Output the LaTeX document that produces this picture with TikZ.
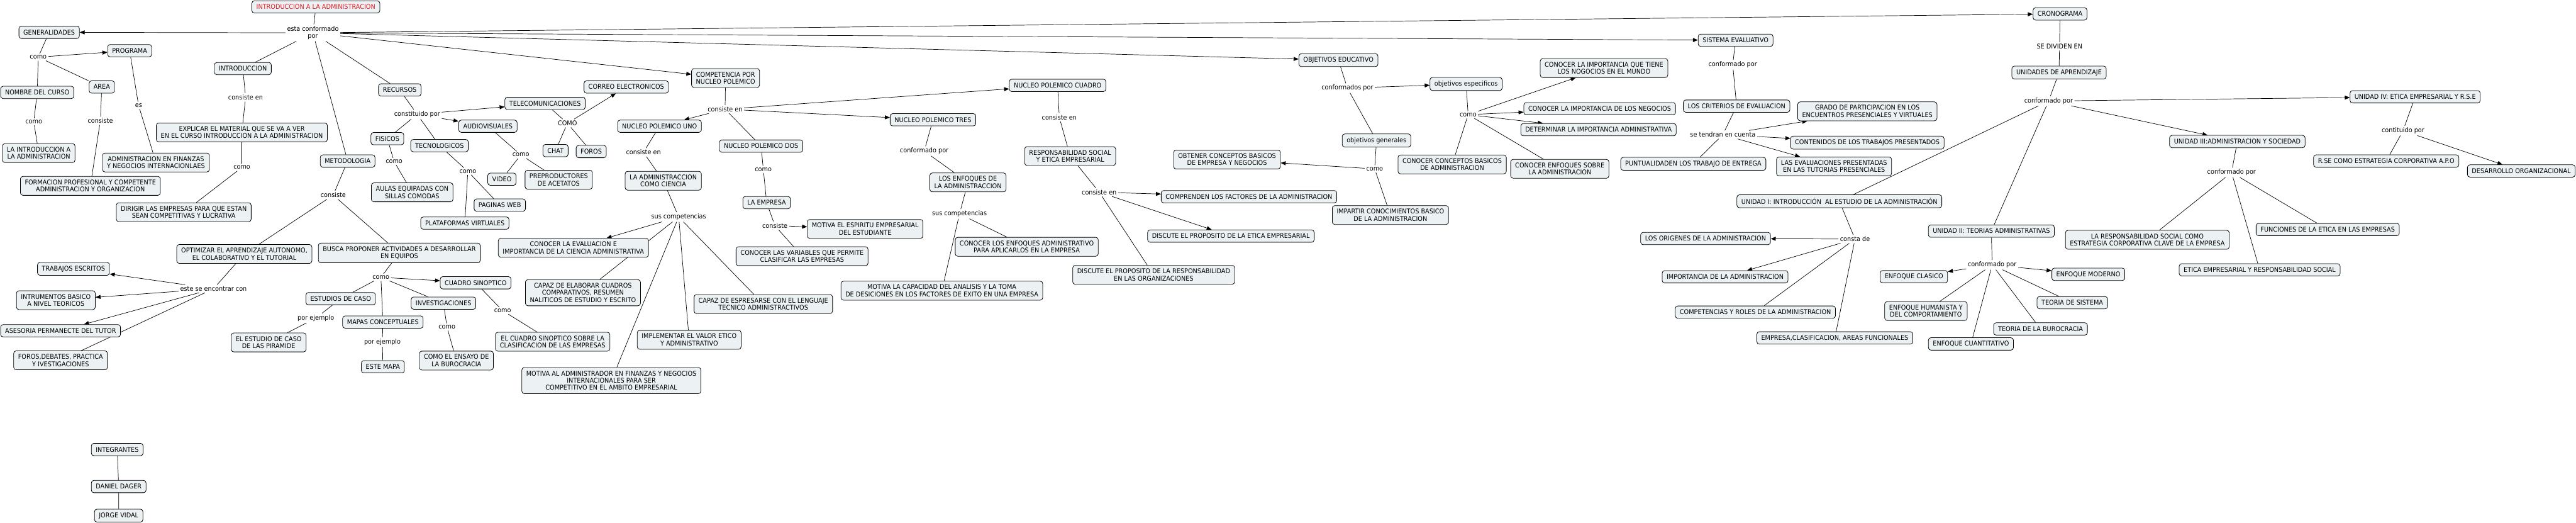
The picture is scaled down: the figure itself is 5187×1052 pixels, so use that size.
\documentclass[tikz,border=0pt]{standalone}
\usepackage{fontspec}
\setmainfont{DejaVu Sans}[FakeStretch=0.93]
\usetikzlibrary{arrows.meta,backgrounds}
\definecolor{boxfill}{RGB}{236,242,244}
\definecolor{titlered}{RGB}{228,28,36}
\tikzset{
  concept/.style={draw=black, line width=0.5pt, fill=boxfill, rounded corners=2.5pt,
    align=center, inner xsep=4.5pt, inner ysep=3.4pt, minimum height=12.4pt},
  linkword/.style={inner sep=1.5pt, align=center},
  joint/.style={line width=0.45pt},
  arr/.style={joint, -{Triangle[length=5pt,width=4pt]}}
}
\begin{document}
\begin{tikzpicture}[x=0.5pt,y=-0.5pt,font=\fontsize{6.6}{7.25}\selectfont]
	\useasboundingbox (0,0) rectangle (5187,1052);

	% Root
	\node[concept, text=titlered] (title) at (636,14) {INTRODUCCION A LA ADMINISTRACION};
	\node[linkword] (conf) at (630,66) {esta conformado\\por};

	% Generalidades
	\node[concept] (gen) at (99,65) {GENERALIDADES};
	\node[linkword] (l_gen) at (77,115) {como};
	\node[concept] (prog) at (261,102) {PROGRAMA};
	\node[concept] (nombre) at (75,186) {NOMBRE DEL CURSO};
	\node[concept] (area) at (205,175) {AREA};
	\node[linkword] (l_prog) at (279,212) {es};
	\node[linkword] (l_nombre) at (68,245) {como};
	\node[linkword] (l_area) at (202,243) {consiste};
	\node[concept] (laintro) at (78,308) {LA INTRODUCCION A\\LA ADMINISTRACION};
	\node[concept] (adminfin) at (314,327) {ADMINISTRACION EN FINANZAS\\Y NEGOCIOS INTERNACIONLAES};
	\node[concept] (formacion) at (182,374) {FORMACION PROFESIONAL Y COMPETENTE\\ADMINISTRACION Y ORGANIZACION};

	% Introduccion
	\node[concept] (intro) at (489,138) {INTRODUCCION};
	\node[linkword] (l_intro) at (494.5,196) {consiste en};
	\node[concept] (explicar) at (487,266.5) {EXPLICAR EL MATERIAL QUE SE VA A VER\\EN EL CURSO INTRODUCCION A LA ADMINISTRACION};
	\node[linkword] (l_explicar) at (487,337) {como};
	\node[concept] (dirigir) at (370,427) {DIRIGIR LAS EMPRESAS PARA QUE ESTAN\\SEAN COMPETITIVAS Y LUCRATIVA};

	% Metodologia
	\node[concept] (metodo) at (700,324) {METODOLOGIA};
	\node[linkword] (l_metodo) at (671,392.6) {consiste};
	\node[concept] (optim) at (492,511) {OPTIMIZAR EL APRENDIZAJE AUTONOMO,\\EL COLABORATIVO Y EL TUTORIAL};
	\node[concept] (busca) at (804,509) {BUSCA PROPONER ACTIVIDADES A DESARROLLAR\\EN EQUIPOS};
	\node[linkword] (l_optim) at (430,581) {este se encontrar con};
	\node[concept] (trabajos) at (148,541) {TRABAJOS ESCRITOS};
	\node[concept] (intrum) at (112.5,604) {INTRUMENTOS BASICO\\A NIVEL TEORICOS};
	\node[concept] (asesoria) at (122,665.5) {ASESORIA PERMANECTE DEL TUTOR};
	\node[concept] (foros2) at (122,725) {FOROS,DEBATES, PRACTICA\\Y IVESTIGACIONES};
	\node[linkword] (l_busca) at (767,558) {como};
	\node[concept] (estudios) at (686,601) {ESTUDIOS DE CASO};
	\node[concept] (invest) at (893,610) {INVESTIGACIONES};
	\node[concept] (cuadro) at (957.7,569) {CUADRO SINOPTICO};
	\node[linkword] (l_estudios) at (636,640) {por ejemplo};
	\node[concept] (mapas) at (771,648) {MAPAS CONCEPTUALES};
	\node[concept] (piramide) at (541,689) {EL ESTUDIO DE CASO\\DE LAS PIRAMIDE};
	\node[linkword] (l_mapas) at (770,688) {por ejemplo};
	\node[concept] (estemapa) at (771,738) {ESTE MAPA};
	\node[linkword] (l_invest) at (900,658) {como};
	\node[concept] (ensayo) at (919,725.5) {COMO EL ENSAYO DE\\LA BUROCRACIA};
	\node[linkword] (l_cuadro) at (1012,625) {como};
	\node[concept] (cuadrosob) at (1112.8,687.6) {EL CUADRO SINOPTICO SOBRE LA\\CLASIFICACION DE LAS EMPRESAS};

	% Recursos
	\node[concept] (recur) at (805,181) {RECURSOS};
	\node[linkword] (l_recur) at (840,230) {constituido por};
	\node[concept] (fisicos) at (780,279) {FISICOS};
	\node[concept] (tecno) at (885,293) {TECNOLOGICOS};
	\node[linkword] (l_fisicos) at (793.5,325) {como};
	\node[concept] (aulas) at (830,387) {AULAS EQUIPADAS CON\\SILLAS COMODAS};
	\node[linkword] (l_tecno) at (942,344.7) {como};
	\node[concept] (paginas) at (1006.4,412.7) {PAGINAS WEB};
	\node[concept] (plataf) at (936,449) {PLATAFORMAS VIRTUALES};
	\node[concept] (telecom) at (1097.5,208) {TELECOMUNICACIONES};
	\node[concept] (correo) at (1261,175) {CORREO ELECTRONICOS};
	\node[linkword] (l_telecom) at (1142.5,248) {COMO};
	\node[concept] (chat) at (1118.6,303) {CHAT};
	\node[concept] (foros) at (1190.5,305) {FOROS};
	\node[concept] (audio) at (982.5,254) {AUDIOVISUALES};
	\node[linkword] (l_audio) at (1048.7,311.6) {como};
	\node[concept] (video) at (1010.6,360.6) {VIDEO};
	\node[concept] (preprod) at (1125,361.6) {PREPRODUCTORES\\DE ACETATOS};

	% Competencia por nucleo polemico
	\node[concept] (compet) at (1461,157) {COMPETENCIA POR\\NUCLEO POLEMICO};
	\node[linkword] (l_compet) at (1460,219.7) {consiste en};
	\node[concept] (uno) at (1328,254) {NUCLEO POLEMICO UNO};
	\node[concept] (dos) at (1532.5,294) {NUCLEO POLEMICO DOS};
	\node[concept] (tres) at (1878.6,241) {NUCLEO POLEMICO TRES};
	\node[concept] (cuatro) at (2129.6,171.8) {NUCLEO POLEMICO CUADRO};
	\node[linkword] (l_uno) at (1295.6,306.5) {consiste en};
	\node[concept] (ciencia) at (1335.5,363.7) {LA ADMINISTRACCION\\COMO CIENCIA};
	\node[linkword] (l_ciencia) at (1366.6,436.6) {sus competencias};
	\node[concept] (evalua) at (1154.6,498.6) {CONOCER LA EVALUACION E\\IMPORTANCIA DE LA CIENCIA ADMINISTRATIVA};
	\node[concept] (elaborar) at (1173.8,589) {CAPAZ DE ELABORAR CUADROS\\COMPARATIVOS, RESUMEN\\NALITICOS DE ESTUDIO Y ESCRITO};
	\node[concept] (espresarse) at (1537,611.8) {CAPAZ DE ESPRESARSE CON EL LENGUAJE\\TECNICO ADMINISTRACTIVOS};
	\node[concept] (implementar) at (1387.7,683.7) {IMPLEMENTAR EL VALOR ETICO\\Y ADMINISTRATIVO};
	\node[concept] (motivaadm) at (1231,765.8) {MOTIVA AL ADMINISTRADOR EN FINANZAS Y NEGOCIOS\\INTERNACIONALES PARA SER\\COMPETITIVO EN EL AMBITO EMPRESARIAL};
	\node[linkword] (l_dos) at (1537,341) {como};
	\node[concept] (empresa) at (1543.7,407.7) {LA EMPRESA};
	\node[linkword] (l_empresa) at (1560.3,453.9) {consiste};
	\node[concept] (espiritu) at (1742,460.7) {MOTIVA EL ESPIRITU EMPRESARIAL\\DEL ESTUDIANTE};
	\node[concept] (variables) at (1615,515.5) {CONOCER LAS VARIABLES QUE PERMITE\\CLASIFICAR LAS EMPRESAS};
	\node[linkword] (l_tres) at (1861,304) {conformado por};
	\node[concept] (enfoques) at (1949,367) {LOS ENFOQUES DE\\LA ADMINISTRACCION};
	\node[linkword] (l_enfoques) at (1932,430.4) {sus competencias};
	\node[concept] (conocenf) at (2067.4,496.6) {CONOCER LOS ENFOQUES ADMINISTRATIVO\\PARA APLICARLOS EN LA EMPRESA};
	\node[concept] (capacidad) at (1896.5,584.9) {MOTIVA LA CAPACIDAD DEL ANALISIS Y LA TOMA\\DE DESICIONES EN LOS FACTORES DE EXITO EN UNA EMPRESA};
	\node[linkword] (l_cuatro) at (2132.9,235.9) {consiste en};
	\node[concept] (resp) at (2154.8,314) {RESPONSABILIDAD SOCIAL\\Y ETICA EMPRESARIAL};
	\node[linkword] (l_resp) at (2213.3,386.7) {consiste en};
	\node[concept] (comprenden) at (2514.9,395.8) {COMPRENDEN LOS FACTORES DE LA ADMINISTRACION};
	\node[concept] (discuteet) at (2478.5,475) {DISCUTE EL PROPOSITO DE LA ETICA EMPRESARIAL};
	\node[concept] (discuteresp) at (2323,553) {DISCUTE EL PROPOSITO DE LA RESPONSABILIDAD\\EN LAS ORGANIZACIONES};

	% Objetivos
	\node[concept] (objedu) at (2695,121) {OBJETIVOS EDUCATIVO};
	\node[linkword] (l_objedu) at (2713,177.3) {conformados por};
	\node[concept] (objesp) at (2952,169) {objetivos especificos};
	\node[concept] (objgen) at (2771.7,282.7) {objetivos generales};
	\node[linkword] (l_objesp) at (2956.2,230.7) {como};
	\node[concept] (importq) at (3229.8,136.9) {CONOCER LA IMPORTANCIA QUE TIENE\\LOS NOGOCIOS EN EL MUNDO};
	\node[concept] (importneg) at (3221,218.8) {CONOCER LA IMPORTANCIA DE LOS NEGOCIOS};
	\node[concept] (determinar) at (3218.7,260.9) {DETERMINAR LA IMPORTANCIA ADMINISTRATIVA};
	\node[concept] (concbas) at (2924,330.8) {CONOCER CONCEPTOS BASICOS\\DE ADMINISTRACION};
	\node[concept] (concenf) at (3140.8,339.7) {CONOCER ENFOQUES SOBRE\\LA ADMINISTRACION};
	\node[linkword] (l_objgen) at (2768,339.9) {como};
	\node[concept] (obtener) at (2470.7,321) {OBTENER CONCEPTOS BASICOS\\DE EMPRESA Y NEGOCIOS};
	\node[concept] (impartir) at (2799.7,432.7) {IMPARTIR CONOCIMIENTOS BASICO\\DE LA ADMINISTRACION};

	% Sistema evaluativo
	\node[concept] (sistema) at (3494.7,81) {SISTEMA EVALUATIVO};
	\node[linkword] (l_sistema) at (3489,130.2) {conformado por};
	\node[concept] (criterios) at (3496.8,213.6) {LOS CRITERIOS DE EVALUACION};
	\node[linkword] (l_criterios) at (3469,271) {se tendran en cuenta};
	\node[concept] (grado) at (3760,224) {GRADO DE PARTICIPACION EN LOS\\ENCUENTROS PRESENCIALES Y VIRTUALES};
	\node[concept] (contenidos) at (3760,287) {CONTENIDOS DE LOS TRABAJOS PRESENTADOS};
	\node[concept] (evaluac) at (3693,334.9) {LAS EVALUACIONES PRESENTADAS\\EN LAS TUTORIAS PRESENCIALES};
	\node[concept] (puntual) at (3409.6,329.7) {PUNTUALIDADEN LOS TRABAJO DE ENTREGA};

	% Cronograma
	\node[concept] (crono) at (4148,28) {CRONOGRAMA};
	\node[linkword] (l_crono) at (4147,93.3) {SE DIVIDEN EN};
	\node[concept] (unidades) at (4146,146) {UNIDADES DE APRENDIZAJE};
	\node[linkword] (l_unidades) at (4125,203.2) {conformado por};
	\node[concept] (unidad1) at (3703.7,405) {UNIDAD I: INTRODUCCIÓN\ \ AL ESTUDIO DE LA ADMINISTRACIÓN};
	\node[linkword] (l_unidad1) at (3735.2,481) {consta de};
	\node[concept] (origenes) at (3434.3,480) {LOS ORIGENES DE LA ADMINISTRACION};
	\node[concept] (importadm) at (3473.6,557) {IMPORTANCIA DE LA ADMINISTRACION};
	\node[concept] (competroles) at (3534.6,628) {COMPETENCIAS Y ROLES DE LA ADMINISTRACION};
	\node[concept] (empclas) at (3694.5,680) {EMPRESA,CLASIFICACION, AREAS FUNCIONALES};
	\node[concept] (unidad2) at (4009.7,465) {UNIDAD II: TEORIAS ADMINISTRATIVAS};
	\node[linkword] (l_unidad2) at (4011.4,533) {conformado por};
	\node[concept] (clasico) at (3853.8,556.8) {ENFOQUE CLASICO};
	\node[concept] (moderno) at (4205,552) {ENFOQUE MODERNO};
	\node[concept] (sistemateo) at (4172.7,609) {TEORIA DE SISTEMA};
	\node[concept] (humanista) at (3878,625.9) {ENFOQUE HUMANISTA Y\\DEL COMPORTAMIENTO};
	\node[concept] (burocracia) at (4108.7,661.8) {TEORIA DE LA BUROCRACIA};
	\node[concept] (cuanti) at (3968.6,692) {ENFOQUE CUANTITATIVO};
	\node[concept] (unidad3) at (4505,284.8) {UNIDAD III:ADMINISTRACION Y SOCIEDAD};
	\node[linkword] (l_unidad3) at (4493.4,347.1) {conformado por};
	\node[concept] (larespons) at (4323.8,482.5) {LA RESPONSABILIDAD SOCIAL COMO\\ESTRATEGIA CORPORATIVA CLAVE DE LA EMPRESA};
	\node[concept] (funciones) at (4687,461.8) {FUNCIONES DE LA ETICA EN LAS EMPRESAS};
	\node[concept] (eticaemp) at (4550,543) {ETICA EMPRESARIAL Y RESPONSABILIDAD SOCIAL};
	\node[concept] (unidad4) at (4863,194.8) {UNIDAD IV: ETICA EMPRESARIAL Y R.S.E};
	\node[linkword] (l_unidad4) at (4838.7,263) {contituido por};
	\node[concept] (rse) at (4804.8,324) {R.SE COMO ESTRATEGIA CORPORATIVA A.P.O};
	\node[concept] (desarrollo) at (5076.8,344) {DESARROLLO ORGANIZACIONAL};

	% Integrantes
	\node[concept] (integ) at (236,904.5) {INTEGRANTES};
	\node[concept] (daniel) at (239,979) {DANIEL DAGER};
	\node[concept] (jorge) at (239,1037.5) {JORGE VIDAL};

	% Connectors
	\begin{pgfonlayer}{background}
	\draw[joint] (title) -- (conf);
	\foreach \t in {gen,compet,objedu,sistema,crono} \draw[arr] (conf) -- (\t);
	\foreach \t in {intro,metodo,recur} \draw[joint] (conf) -- (\t);

	\draw[joint] (gen) -- (l_gen);
	\draw[arr] (l_gen) -- (prog);
	\draw[joint] (l_gen) -- (nombre);
	\draw[joint] (l_gen) -- (area);
	\draw[joint] (nombre) -- (l_nombre) -- (laintro);
	\draw[joint] (area) -- (l_area) -- (formacion);
	\draw[joint] (prog) -- (l_prog) -- (adminfin);

	\draw[joint] (intro) -- (l_intro) -- (explicar);
	\draw[joint] (explicar) -- (l_explicar) -- (dirigir);

	\draw[joint] (metodo) -- (l_metodo);
	\draw[joint] (l_metodo) -- (optim);
	\draw[joint] (l_metodo) -- (busca);
	\draw[joint] (optim) -- (l_optim);
	\foreach \t in {trabajos,intrum,asesoria} \draw[arr] (l_optim) -- (\t);
	\draw[joint] (l_optim) -- (foros2);
	\draw[joint] (busca) -- (l_busca);
	\draw[arr] (l_busca) -- (cuadro);
	\foreach \t in {estudios,mapas,invest} \draw[joint] (l_busca) -- (\t);
	\draw[joint] (estudios) -- (l_estudios) -- (piramide);
	\draw[joint] (mapas) -- (l_mapas) -- (estemapa);
	\draw[joint] (invest) -- (l_invest) -- (ensayo);
	\draw[joint] (cuadro) -- (l_cuadro) -- (cuadrosob);

	\draw[joint] (recur) -- (l_recur);
	\draw[arr] (l_recur) -- (telecom);
	\draw[arr] (l_recur) -- (audio);
	\draw[joint] (l_recur) -- (fisicos);
	\draw[joint] (l_recur) -- (tecno);
	\draw[joint] (fisicos) -- (l_fisicos) -- (aulas);
	\draw[joint] (tecno) -- (l_tecno);
	\draw[joint] (l_tecno) -- (paginas);
	\draw[joint] (l_tecno) -- (plataf);
	\draw[joint] (telecom) -- (l_telecom);
	\draw[arr] (l_telecom) -- (correo);
	\draw[joint] (l_telecom) -- (chat);
	\draw[joint] (l_telecom) -- (foros);
	\draw[joint] (audio) -- (l_audio);
	\draw[joint] (l_audio) -- (video);
	\draw[joint] (l_audio) -- (preprod);

	\draw[joint] (compet) -- (l_compet);
	\foreach \t in {uno,tres,cuatro} \draw[arr] (l_compet) -- (\t);
	\draw[joint] (l_compet) -- (dos);
	\draw[joint] (uno) -- (l_uno) -- (ciencia);
	\draw[joint] (ciencia) -- (l_ciencia);
	\draw[arr] (l_ciencia) -- (evalua);
	\foreach \t in {elaborar,motivaadm,implementar,espresarse} \draw[joint] (l_ciencia) -- (\t);
	\draw[joint] (dos) -- (l_dos) -- (empresa);
	\draw[joint] (empresa) -- (l_empresa);
	\draw[arr] (l_empresa) -- (espiritu);
	\draw[joint] (l_empresa) -- (variables);
	\draw[joint] (tres) -- (l_tres) -- (enfoques);
	\draw[joint] (enfoques) -- (l_enfoques);
	\draw[joint] (l_enfoques) -- (conocenf);
	\draw[joint] (l_enfoques) -- (capacidad);
	\draw[joint] (cuatro) -- (l_cuatro) -- (resp);
	\draw[joint] (resp) -- (l_resp);
	\draw[arr] (l_resp) -- (comprenden);
	\draw[arr] (l_resp) -- (discuteet);
	\draw[joint] (l_resp) -- (discuteresp);

	\draw[joint] (objedu) -- (l_objedu);
	\draw[arr] (l_objedu) -- (objesp);
	\draw[joint] (l_objedu) -- (objgen);
	\draw[joint] (objesp) -- (l_objesp);
	\foreach \t in {importq,importneg,determinar} \draw[arr] (l_objesp) -- (\t);
	\draw[joint] (l_objesp) -- (concbas);
	\draw[joint] (l_objesp) -- (concenf);
	\draw[joint] (objgen) -- (l_objgen);
	\draw[arr] (l_objgen) -- (obtener);
	\draw[joint] (l_objgen) -- (impartir);

	\draw[joint] (sistema) -- (l_sistema) -- (criterios);
	\draw[joint] (criterios) -- (l_criterios);
	\foreach \t in {grado,contenidos,evaluac} \draw[arr] (l_criterios) -- (\t);
	\draw[joint] (l_criterios) -- (puntual);

	\draw[joint] (crono) -- (l_crono) -- (unidades);
	\draw[joint] (unidades) -- (l_unidades);
	\draw[arr] (l_unidades) -- (unidad4);
	\draw[arr] (l_unidades) -- (unidad3);
	\draw[joint] (l_unidades) -- (unidad1);
	\draw[joint] (l_unidades) -- (unidad2);
	\draw[joint] (unidad1) -- (l_unidad1);
	\draw[arr] (l_unidad1) -- (origenes);
	\draw[arr] (l_unidad1) -- (importadm);
	\draw[joint] (l_unidad1) -- (competroles);
	\draw[joint] (l_unidad1) -- (empclas);
	\draw[joint] (unidad2) -- (l_unidad2);
	\draw[arr] (l_unidad2) -- (clasico);
	\draw[arr] (l_unidad2) -- (moderno);
	\foreach \t in {humanista,cuanti,burocracia,sistemateo} \draw[joint] (l_unidad2) -- (\t);
	\draw[joint] (unidad3) -- (l_unidad3);
	\foreach \t in {larespons,eticaemp,funciones} \draw[joint] (l_unidad3) -- (\t);
	\draw[joint] (unidad4) -- (l_unidad4) -- (rse);
	\draw[arr] (l_unidad4) -- (desarrollo);

	\draw[joint] (integ) -- (daniel) -- (jorge);
	\end{pgfonlayer}
\end{tikzpicture}
\end{document}
